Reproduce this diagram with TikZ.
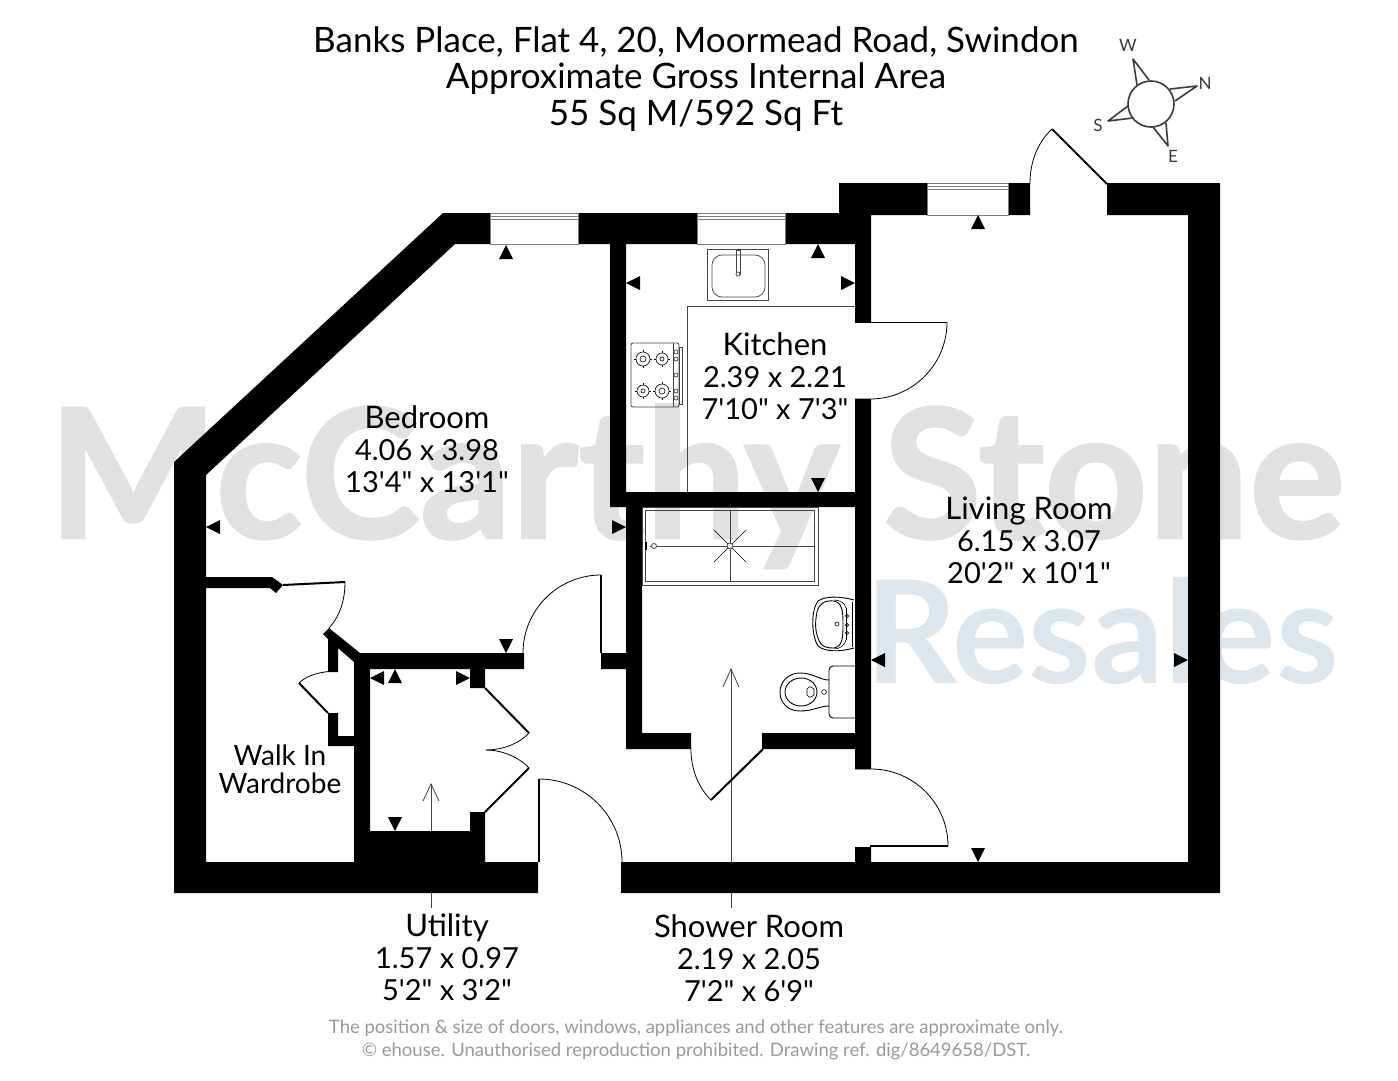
\documentclass[tikz,border=0pt]{standalone}
\usepackage{fontspec}
\setmainfont[Ligatures=TeXOff]{Lato}
\newfontfamily\wmfont[BoldFeatures={FakeBold=1.4}]{Lato}
\usetikzlibrary{positioning}
\definecolor{markgray}{HTML}{E1E1E1}
\definecolor{markblue}{HTML}{DDE6ED}
\definecolor{fitgray}{HTML}{444444}
\definecolor{notegray}{HTML}{9A9A9A}
\definecolor{compgray}{HTML}{3A3A3A}
\tikzset{
  wall/.style={fill=black, draw=none},
  glass/.style={fill=white, draw=fitgray!70, line width=0.6pt},
  leaf/.style={draw=black, line width=2pt},
  swing/.style={draw=black, line width=0.8pt},
  fitline/.style={draw=fitgray, line width=0.8pt},
  fitthin/.style={draw=black, line width=0.6pt},
  comp/.style={draw=compgray, line width=1.6pt, fill=white},
  lbl/.style={font=\fontsize{29}{32}\selectfont, align=center, inner sep=0pt, text=black},
  head/.style={font=\fontsize{35}{36.5}\selectfont, align=center, inner sep=0pt, text=black},
  note/.style={font=\fontsize{18.5}{23}\selectfont, align=center, inner sep=0pt, text=notegray},
  cpt/.style={font=\fontsize{17}{17}\selectfont, inner sep=0pt, text=compgray},
  wmark/.style={font=\wmfont\bfseries\fontsize{180}{180}\selectfont, inner sep=0pt, anchor=base},
}
\newcommand{\RN}[3]{{\fontsize{31}{32}\selectfont #1}\\#2\\#3}
% wall ticks, first two arguments are the tip
\newcommand{\TKU}[2]{\fill (#1,#2) -- ++(-7,14) -- ++(14,0) -- cycle;}
\newcommand{\TKD}[2]{\fill (#1,#2) -- ++(-7,-14) -- ++(14,0) -- cycle;}
\newcommand{\TKL}[2]{\fill (#1,#2) -- ++(14,-7) -- ++(0,14) -- cycle;}
\newcommand{\TKR}[2]{\fill (#1,#2) -- ++(-14,-7) -- ++(0,14) -- cycle;}
\newcommand{\BRN}[4]{\draw[fitthin, line width=0.6pt] (#1,#2) circle (#3); \draw[fitthin, line width=0.6pt] (#1,#2) circle (#4);
  \draw[fitthin, line width=0.6pt] (#1-#3-2,#2) -- (#1-#3,#2) (#1+#3,#2) -- (#1+#3+2,#2) (#1,#2-#3-2) -- (#1,#2-#3) (#1,#2+#3) -- (#1,#2+#3+2);}

\begin{document}
\begin{tikzpicture}[x=1pt, y=-1pt]
\useasboundingbox (0,0) rectangle (1398,1080);
\fill[white] (0,0) rectangle (1398,1080);

% watermark
\node[wmark, text=markgray, anchor=base west] (wmA) at (48,538) {McCarthy Stone};
\node[wmark, text=markblue, font=\bfseries\fontsize{143}{143}\selectfont, anchor=base west] (wmB) at (865,683) {Resales};

% dimension lines
\draw[fitline] (731,669) -- (731,908);
\draw[fitline] (723,687) -- (731,669) -- (739,687);
\draw[fitline] (431,784) -- (431,908);
\draw[fitline] (423,801) -- (431,784) -- (439,801);

% walls
\fill[wall] (538,893) -- (174,893) -- (174,462) -- (443,213) -- (839,213) -- (839,183) -- (1030,183) -- (1030,215)
  -- (871,215) -- (871,322) -- (855,322) -- (855,244) -- (455,244) -- (206,475) -- (206,862) -- (538,862) -- cycle;
\fill[wall] (1107,183) -- (1220,183) -- (1220,893) -- (621,893) -- (621,862) -- (855,862) -- (855,847) -- (871,847)
  -- (871,862) -- (1188,862) -- (1188,215) -- (1107,215) -- cycle;
\fill[wall] (610,244) -- (626,244) -- (626,492) -- (855,492) -- (855,399) -- (871,399) -- (871,769) -- (855,769)
  -- (855,749) -- (762,749) -- (762,733) -- (855,733) -- (855,507) -- (642,507) -- (642,733) -- (691,733) -- (691,749)
  -- (626,749) -- (626,669) -- (601,669) -- (601,653) -- (626,653) -- (626,507) -- (610,507) -- cycle;
\fill[wall] (206,577) -- (272,577) -- (283,585) -- (276,593) -- (270,588) -- (206,588) -- cycle;
\fill[wall] (323,634) -- (329,628) -- (360,653) -- (524,653) -- (524,669) -- (485,669) -- (485,688) -- (470,688)
  -- (470,669) -- (370,669) -- (370,831) -- (470,831) -- (470,812) -- (485,812) -- (485,862) -- (354,862) -- (354,746)
  -- (328,746) -- (328,713) -- (338,713) -- (338,736) -- (354,736) -- (354,662) -- (338,648) -- (338,672) -- (328,672)
  -- (328,639) -- cycle;

% windows
\filldraw[glass] (490,213) rectangle (578,244);
\draw[glass] (490,216) -- (578,216) (490,219) -- (578,219);
\filldraw[glass] (697,213) rectangle (785,244);
\draw[glass] (697,216) -- (785,216) (697,219) -- (785,219);
\filldraw[glass] (927,183) rectangle (1008,215);
\draw[glass] (927,186) -- (1008,186) (927,189) -- (1008,189);

% doors
\draw[leaf] (1052,129) -- (1107,184);
\draw[swing] (1052,129) .. controls (1039,141) and (1030,160) .. (1030,183);
\draw[swing] (855,322) -- (947,322);
\draw[swing] (947,322) arc[start angle=0, end angle=90, radius=77] -- (855,399);
\draw[leaf, line width=1.6pt] (870,846) -- (948,846);
\draw[swing] (948,846) arc[start angle=0, end angle=-90, radius=77] -- (855,769);
\draw[leaf] (763,749) -- (711,800);
\draw[swing] (711,800) .. controls (698,787) and (691,769) .. (691,749);
\draw[leaf] (539,862) -- (539,779);
\draw[swing] (539,779) arc[start angle=-90, end angle=0, radius=83];
\draw[leaf] (601,653) -- (601,575);
\draw[swing] (601,575) arc[start angle=-90, end angle=-180, radius=78];
\draw[leaf] (485,688) -- (529,733);
\draw[swing] (529,733) .. controls (520,743) and (503,750) .. (486,750);
\draw[leaf] (485,812) -- (529,768);
\draw[swing] (529,768) .. controls (520,758) and (503,750) .. (486,750);
\draw[leaf] (283,585) -- (345,582);
\draw[swing] (345,582) .. controls (345,600) and (340,616) .. (329,628);
\draw[leaf] (299,683) -- (328,713);
\draw[swing] (299,683) .. controls (307,675) and (322,671) .. (338,671);

% kitchen units
\draw[fitline] (855,306) -- (687,306) -- (687,492);
\draw[fitline, line width=0.7pt] (707,249) rectangle (768,300);
\draw[fitline, line width=0.7pt, rounded corners=10pt] (712,255) rectangle (765,297);
\draw[fitline, line width=0.7pt] (736,250) rectangle (740,274);
\draw[fitline, line width=0.7pt, fill=white] (738,274) circle (2);
\draw[fitline, rounded corners=2pt] (631,343) rectangle (679,407);
\draw[fitline, line width=0.7pt] (673,343) -- (673,407);
\draw[fitline, line width=0.7pt] (679,347) rectangle (682,404);
\BRN{643}{359}{7}{3} \BRN{662}{359}{6}{2} \BRN{643}{391}{6}{2} \BRN{662}{391}{7}{3}
\draw[fitline, line width=0.7pt] (676,352) circle (2) (676,359) circle (2) (676,375) circle (2) (676,391) circle (2) (676,398) circle (2);

% shower
\draw[fitline] (642,507) rectangle (818,585);
\draw[fitline] (645,510) rectangle (814,581);
\draw[fitline] (650,546) -- (814,546) (730,510) -- (730,581);
\draw[fitthin] (714,530) -- (746,562) (714,562) -- (746,530);
\draw[fitline, fill=white] (730,546) circle (3);
\draw[fitline, fill=white] (654,546) circle (2.5);
\draw[black, line width=1.5pt] (646,542) -- (646,550);

% basin
\draw[fitthin, line width=0.9pt] (854,600) .. controls (840,596) and (825,596) .. (818,601)
  .. controls (811,610) and (811,635) .. (818,646) .. controls (825,652) and (840,652) .. (854,648);
\draw[fitthin, line width=0.9pt] (834,601) .. controls (824,600) and (819,604) .. (817,612)
  .. controls (815,622) and (815,630) .. (818,638) .. controls (821,648) and (828,648) .. (834,648)
  .. controls (842,646) and (843,640) .. (843,624) .. controls (843,610) and (842,603) .. (834,601);
\draw[fitthin] (852,602) -- (852,647) (846,608) -- (846,640);
\draw[fitthin] (834,600) .. controls (840,600) and (845,603) .. (846,608) (834,649) .. controls (840,649) and (845,645) .. (846,640);
\draw[fitthin] (837,624) circle (2) (847,616) circle (1.6) (847,625) circle (1.6) (847,633) circle (1.6);

% wc
\draw[fitthin, line width=0.9pt, rounded corners=4pt] (855,666) -- (829,666) -- (829,718) -- (855,718);
\draw[fitthin, line width=0.9pt] (829,680) .. controls (820,680) and (813,673) .. (800,673) .. controls (788,673) and (780,682) .. (780,692)
  .. controls (780,703) and (788,711) .. (800,711) .. controls (813,711) and (820,706) .. (829,706);
\draw[fitthin, line width=0.9pt] (801,692) ellipse (16 and 14);
\draw[fitthin] (811,687) -- (809,687) -- (807,689) -- (807,695) -- (809,697) -- (811,697) -- (814,695) -- (814,689) -- cycle;
\draw[fitthin] (824,692) circle (2.4);

% ticks
\TKU{506}{245} \TKU{818}{244} \TKU{978}{215} \TKU{395}{669}
\TKD{818}{492} \TKD{978}{862} \TKD{506}{653} \TKD{395}{831}
\TKL{626}{283} \TKL{206}{527} \TKL{370}{678} \TKL{871}{660}
\TKR{855}{283} \TKR{626}{527} \TKR{470}{678} \TKR{1188}{660}

% compass
\draw[comp, line join=round] (1137,85) -- (1133,59) -- (1149,80);
\draw[comp, line join=round] (1170,89) -- (1197,86) -- (1175,101);
\draw[comp, line join=round] (1166,123) -- (1168,146) -- (1153,127);
\draw[comp, line join=round] (1128,106) -- (1108,121) -- (1133,118);
\draw[comp] (1151,104) circle (23);
\node[cpt] (cptW) at (1128,45) {W};
\node[cpt] (cptN) at (1205,83) {N};
\node[cpt] (cptE) at (1173,156) {E};
\node[cpt] (cptS) at (1098,125) {S};

% texts
\node[head] (title) at (696,79) {Banks Place, Flat 4, 20, Moormead Road, Swindon\\Approximate Gross Internal Area\\55 Sq M/592 Sq Ft};
\node[lbl] (bedroom) at (427,449) {\RN{Bedroom}{4.06 x 3.98}{13'4" x 13'1"}};
\node[lbl] (kitchen) at (775,376) {\RN{Kitchen}{2.39 x 2.21}{7'10" x 7'3"}};
\node[lbl] (living) at (1029,540) {\RN{Living Room}{6.15 x 3.07}{20'2" x 10'1"}};
\node[lbl, font=\fontsize{28}{28}\selectfont] (wardrobe) at (280,769) {Walk In\\Wardrobe};
\node[lbl] (utility) at (447,957) {\RN{Utility}{1.57 x 0.97}{5'2" x 3'2"}};
\node[lbl] (shower) at (749,958) {\RN{Shower Room}{2.19 x 2.05}{7'2" x 6'9"}};
\node[note] (footer) at (696,1040) {The position \& size of doors, windows, appliances and other features are approximate only.\\\textcopyright{} ehouse. Unauthorised reproduction prohibited. Drawing ref. dig/8649658/DST.};

\end{tikzpicture}
\end{document}
